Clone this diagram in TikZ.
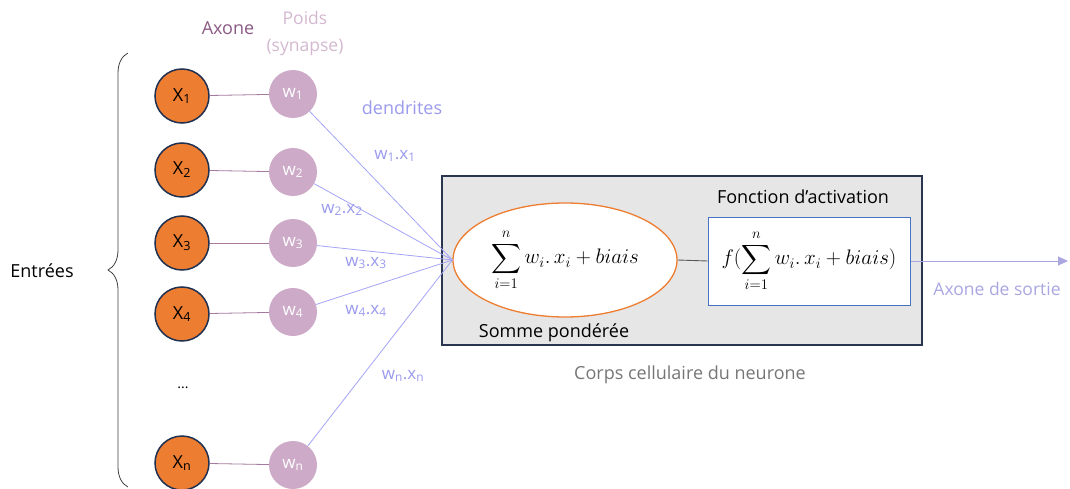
\RequirePackage{fix-cm}
\documentclass[tikz,border=0pt]{standalone}
\usepackage{exscale}
\usepackage{fontspec}
\setmainfont{Open Sans}
\usetikzlibrary{shapes.geometric,decorations.pathreplacing,arrows.meta}
\definecolor{inorange}{HTML}{ED7D31}
\definecolor{navy}{HTML}{1F3050}
\definecolor{wfill}{HTML}{CDABC8}
\definecolor{axline}{HTML}{A57A9E}
\definecolor{dend}{HTML}{A3A3F7}
\definecolor{dendtxt}{HTML}{9A9AEE}
\definecolor{axtxt}{HTML}{8B5A84}
\definecolor{poidstxt}{HTML}{D3B8D0}
\definecolor{bodyfill}{HTML}{E7E6E6}
\definecolor{bodyline}{HTML}{2A3550}
\definecolor{actblue}{HTML}{4472C4}
\definecolor{corpstxt}{HTML}{767676}
\definecolor{outcol}{HTML}{A9A6E2}
\begin{document}
\begin{tikzpicture}[x=1pt,y=-1pt,
  xin/.style={circle, draw=navy, line width=1.5pt, fill=inorange, minimum size=54pt, inner sep=0pt, font=\fontsize{18}{21}\selectfont},
  wnode/.style={circle, fill=wfill, minimum size=48pt, inner sep=0pt, text=white, font=\fontsize{17}{20}\selectfont},
  axon/.style={draw=axline, line width=0.8pt},
  dendl/.style={draw=dend, line width=0.8pt},
  dlabel/.style={text=dendtxt, font=\fontsize{17}{20}\selectfont, inner sep=0pt},
  lbl/.style={font=\fontsize{18}{21}\selectfont, inner sep=0pt},
]
\useasboundingbox (0,0) rectangle (1070,489);

% body box
\node[draw=bodyline, line width=1.2pt, fill=bodyfill, minimum width=480pt, minimum height=169pt, inner sep=0pt] (body) at (682,260.5) {};

% inputs
\node[xin] (x1) at (182,96) {X\textsubscript{1}};
\node[xin] (x2) at (182,170) {X\textsubscript{2}};
\node[xin] (x3) at (182,243) {X\textsubscript{3}};
\node[xin] (x4) at (182,314) {X\textsubscript{4}};
\node[xin] (xn) at (182,463) {X\textsubscript{n}};
\node[lbl, font=\fontsize{14}{16}\selectfont] (dots) at (183,388) {...};

\node[wnode] (w1) at (293,94) {w\textsubscript{1}};
\node[wnode] (w2) at (293,172) {w\textsubscript{2}};
\node[wnode] (w3) at (293,243) {w\textsubscript{3}};
\node[wnode] (w4) at (293,312) {w\textsubscript{4}};
\node[wnode] (wn) at (293,465) {w\textsubscript{n}};

\foreach \i in {1,2,3,4,n} { \draw[axon] (x\i) -- (w\i); }

% sum ellipse
\node[ellipse, draw=inorange, line width=1.3pt, fill=white, minimum width=224pt, minimum height=114pt, inner sep=0pt] (sum) at (565,260)
  {\fontsize{21}{25}\selectfont$\displaystyle\sum_{i=1}^{n} w_i.\,x_i+biais$};

\foreach \i in {1,2,3,4,n} { \draw[dendl] (w\i) -- (sum.west); }

% activation
\node[draw=actblue, line width=1pt, fill=white, minimum width=202pt, minimum height=88pt, inner sep=0pt] (act) at (809,261)
  {\fontsize{21}{25}\selectfont$\displaystyle f(\sum_{i=1}^{n} w_i.\,x_i+biais)$};
\draw[draw=black!65, line width=0.9pt] (sum.east) -- (act.west);

\coordinate (outend) at (1068,261);
\draw[draw=outcol, line width=0.9pt, -{Triangle[length=10pt,width=9pt]}] (act.east) -- (outend);

% labels
\node[lbl, text=axtxt] (laxone) at (228,28) {Axone};
\node[lbl, text=poidstxt, align=center, font=\fontsize{17.5}{27}\selectfont] (lpoids) at (305,33) {Poids\\(synapse)};
\node[lbl, text=dendtxt] (ldend) at (402,108) {dendrites};
\node[dlabel] (l1) at (395,156) {w\textsubscript{1}.x\textsubscript{1}};
\node[dlabel] (l2) at (342,210) {w\textsubscript{2}.x\textsubscript{2}};
\node[dlabel] (l3) at (366,263) {w\textsubscript{3}.x\textsubscript{3}};
\node[dlabel] (l4) at (366,311) {w\textsubscript{4}.x\textsubscript{4}};
\node[dlabel] (ln) at (403,376) {w\textsubscript{n}.x\textsubscript{n}};
\node[lbl] (lfonc) at (803,197) {Fonction d’activation};
\node[lbl] (lsomme) at (554,333) {Somme pondérée};
\node[lbl, text=corpstxt] (lcorps) at (690,375) {Corps cellulaire du neurone};
\node[lbl, text=outcol, font=\fontsize{17.5}{21}\selectfont] (lout) at (997,289) {Axone de sortie};
\node[lbl] (lentrees) at (42,271) {Entrées};

% brace
\coordinate (bbot) at (128,487);
\coordinate (btop) at (128,53);
\draw[draw=black!75, line width=0.8pt, decorate, decoration={brace, amplitude=20pt}] (bbot) -- (btop);
\end{tikzpicture}
\end{document}
